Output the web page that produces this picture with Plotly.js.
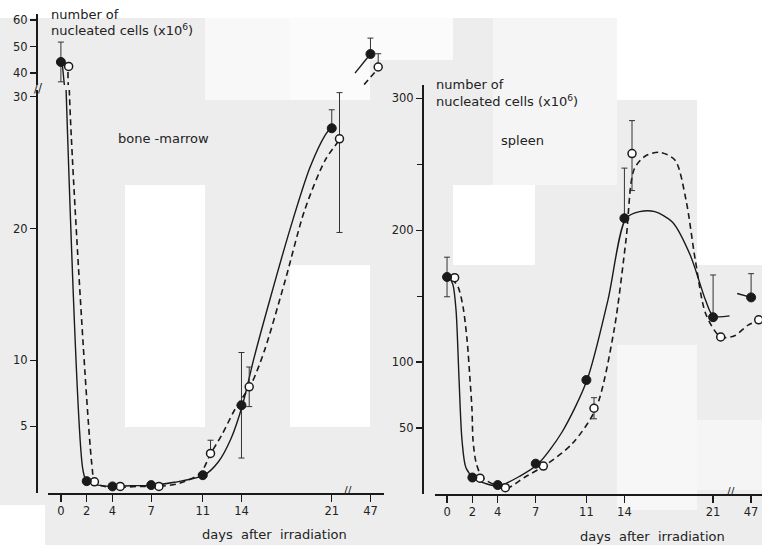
<!DOCTYPE html>
<html><head><meta charset="utf-8">
<script src="https://cdn.plot.ly/plotly-3.0.1.min.js"></script>
<style>html,body{margin:0;padding:0;background:#fff}#chart{width:762px;height:545px}</style>
</head><body><div id="chart"></div>
<script>
// ---- data ----
const days = [0, 2, 4, 7, 11, 14, 21, 47];
const dayTickLabels = ['0', '2', '4', '7', '11', '14', '21', '47'];

// bone-marrow (x10^6 cells)
const bmFilled = [44.2, 0.85, 0.45, 0.55, 1.3, 6.6, 27.6, 47.2];
const bmFilledErrPlus = [7.5, 0, 0, 0, 0, 4.0, 1.4, 6.0];
const bmFilledErrMinus = [7.5, 0, 0, 0, 0, 4.0, 0, 0];
const bmOpen = [42.5, 0.8, 0.45, 0.45, 2.95, 8.0, 26.8, 42.3];
const bmOpenErrPlus = [0, 0, 0, 0, 1.0, 1.5, 3.5, 5.0];
const bmOpenErrMinus = [0, 0, 0, 0, 0, 1.5, 7.1, 0];

// hand-drawn fitted curves, bone-marrow (axis position, value)
const bmSolidX = [0.1, 0.42, 1.7, 2.0, 3.0, 4.1, 5.4, 7.05, 8.8, 11.1, 12.2, 13.2, 14.1, 14.95, 16.2, 17.75, 19.3, 20.5, 20.9, null, 22.8, 24.0];
const bmSolidY = [44.2, 30, 1.74, 0.83, 0.53, 0.45, 0.5, 0.53, 0.76, 1.3, 2.3, 4.1, 6.7, 10.1, 14.6, 19.9, 24.6, 27.1, 27.6, null, 40.0, 47.2];
const bmDashX = [0.55, 0.67, 2.4, 2.64, 3.4, 4.5, 6.1, 7.6, 9.2, 10.8, 11.6, 12.5, 13.5, 14.8, 15.8, 17.4, 18.9, 20.5, 21.6, null, 23.0, 24.7];
const bmDashY = [40.4, 30, 2.1, 0.76, 0.45, 0.38, 0.45, 0.45, 0.68, 1.44, 2.9, 4.4, 6.3, 8.3, 10.8, 16.1, 21.4, 25.2, 26.7, null, 32.8, 42.3];

// spleen (x10^6 cells)
const spFilled = [164.5, 12.5, 6.8, 23, 86.4, 209, 134, 149];
const spFilledErrPlus = [15, 0, 0, 0, 0, 38, 32, 18];
const spFilledErrMinus = [15, 0, 0, 0, 0, 0, 0, 0];
const spOpen = [164, 12.0, 4.8, 21.2, 65, 258, 119, 132];
const spOpenErrPlus = [0, 0, 0, 0, 8, 25, 0, 0];
const spOpenErrMinus = [0, 0, 0, 0, 8, 28, 0, 0];

// hand-drawn fitted curves, spleen
const spSolidX = [0.16, 0.47, 0.71, 0.95, 1.18, 1.5, 2.13, 3.16, 4.1, 5.76, 7.18, 9.08, 11.05, 12.7, 14.13, 15.2, 16.4, 17.8, 19.2, 20.4, 21, 22.3, null, 22.9, 24.0];
const spSolidY = [164.5, 158.5, 139.5, 86.4, 40.9, 19.7, 12.1, 7.6, 6.1, 13.6, 22.7, 47, 86.4, 147, 209, 214, 214, 206, 181, 147, 135, 135, null, 152, 149];
const spDashX = [0.39, 0.87, 1.26, 1.58, 1.82, 1.97, 2.05, 2.29, 2.76, 3.79, 4.74, 6.16, 7.66, 9.87, 11.76, 13.18, 14.13, 14.76, 15.63, 16.8, 18, 18.86, 19.6, 20.44, 21.6, 22.7, 23.76, 24.7];
const spDashY = [163, 157, 142, 117, 86, 64, 41, 24, 12.9, 6.8, 4.5, 12.9, 21.2, 38, 65, 124, 193, 246, 256, 259, 253, 223, 177, 136, 119, 120, 128, 132];

// ---- helpers ----
const BREAK_POS = 24;              // day 47 is drawn just beyond the axis break
const OPEN_SHIFT = 0.6;            // open symbols drawn slightly to the right
const axisPos = d => (d > 21 ? BREAK_POS : d);
const tickPos = days.map(axisPos);
const ink = '#1a1a1a';
const FONT = 'DejaVu Sans, sans-serif';

function curve(x, y, xa, ya, dashed) {
  return {x, y, xaxis: xa, yaxis: ya, type: 'scatter', mode: 'lines', hoverinfo: 'skip',
    connectgaps: false,
    line: {color: ink, width: dashed ? 1.6 : 1.4, dash: dashed ? '6px,4px' : 'solid', shape: 'spline', smoothing: 0.8},
    showlegend: false};
}
function pts(vals, plus, minus, xa, ya, open) {
  return {x: days.map(d => axisPos(d) + (open ? OPEN_SHIFT : 0)), y: vals, xaxis: xa, yaxis: ya,
    type: 'scatter', mode: 'markers', showlegend: false,
    marker: open ? {symbol: 'circle', size: 8, color: '#ffffff', line: {color: ink, width: 1.5}}
                 : {symbol: 'circle', size: 9, color: ink, line: {color: ink, width: 1}},
    error_y: {type: 'data', symmetric: false, array: plus, arrayminus: minus, thickness: 1, width: 3, color: '#333'}};
}

const data = [];
// bone marrow: lower (y) and upper (y2) parts of broken axis
['y', 'y2'].forEach(ya => {
  data.push(curve(bmSolidX, bmSolidY, 'x', ya, false));
  data.push(curve(bmDashX, bmDashY, 'x', ya, true));
  data.push(pts(bmOpen, bmOpenErrPlus, bmOpenErrMinus, 'x', ya, true));
  data.push(pts(bmFilled, bmFilledErrPlus, bmFilledErrMinus, 'x', ya, false));
});
// spleen
data.push(curve(spSolidX, spSolidY, 'x2', 'y3', false));
data.push(curve(spDashX, spDashY, 'x2', 'y3', true));
data.push(pts(spOpen, spOpenErrPlus, spOpenErrMinus, 'x2', 'y3', true));
data.push(pts(spFilled, spFilledErrPlus, spFilledErrMinus, 'x2', 'y3', false));

const W = 762, H = 545;
const px = v => v / W, py = v => 1 - v / H;

const axBase = {showgrid: false, zeroline: false, showline: true, linecolor: ink, linewidth: 1.5,
  ticks: 'outside', ticklen: 6, tickwidth: 1.2, tickcolor: ink,
  tickfont: {family: FONT, size: 11.5, color: '#222'}, fixedrange: true};

const xTicks = {tickmode: 'array', tickvals: tickPos, ticktext: dayTickLabels, ticklen: 7};

// background tiles of the scan (light grey with white / lighter blocks)
const tiles = [
  [0, 0, 762, 18, '#ffffff'], [205, 18, 290, 100, '#f8f8f8'], [290, 18, 370, 100, '#fbfbfb'],
  [370, 18, 453, 60, '#fbfbfb'], [493, 18, 617, 185, '#f5f5f5'], [617, 18, 697, 100, '#ffffff'],
  [697, 18, 762, 265, '#ffffff'], [125, 185, 205, 427, '#ffffff'], [290, 265, 370, 427, '#ffffff'],
  [453, 185, 535, 265, '#ffffff'], [617, 345, 697, 510, '#f7f7f7'], [697, 420, 762, 490, '#f5f5f5'],
  [0, 505, 45, 545, '#ffffff']];
const shapes = tiles.map(t => ({type: 'rect', xref: 'paper', yref: 'paper', layer: 'below',
  x0: px(t[0]), x1: px(t[2]), y0: py(t[3]), y1: py(t[1]), fillcolor: t[4], line: {width: 0}}));

const txt = (t, x, y, xanchor, size) => ({text: t, x: px(x), y: py(y), xref: 'paper', yref: 'paper',
  showarrow: false, xanchor: xanchor || 'left', yanchor: 'middle', font: {family: FONT, size: size || 13, color: '#222'}});

const layout = {
  width: W, height: H, margin: {l: 0, r: 0, t: 0, b: 0},
  paper_bgcolor: '#ededed', plot_bgcolor: 'rgba(0,0,0,0)', showlegend: false,
  xaxis: Object.assign({}, axBase, xTicks, {domain: [px(48), px(384)], range: [-1.0, 25.05], anchor: 'y'}),
  yaxis: Object.assign({}, axBase, {domain: [py(493), py(90)], range: [-0.05, 30.5], anchor: 'free', position: px(36),
    tickmode: 'array', tickvals: [5, 10, 20, 30], ticktext: ['5', '10', '20', '30']}),
  yaxis2: Object.assign({}, axBase, {domain: [py(85), py(14)], range: [35.5, 62.3], anchor: 'free', position: px(36),
    tickmode: 'array', tickvals: [40, 50, 60], ticktext: ['40', '50', '60']}),
  xaxis2: Object.assign({}, axBase, xTicks, {domain: [px(435), 1], range: [-0.95, 24.86], anchor: 'y3'}),
  yaxis3: Object.assign({}, axBase, {domain: [py(494), py(85)], range: [0, 310], anchor: 'free', position: px(422),
    tickmode: 'array', tickvals: [50, 100, 200, 300], ticktext: ['50', '100', '200', '300'],
    minor: {tickmode: 'array', tickvals: [150, 250], ticks: 'outside', ticklen: 5, tickwidth: 1.2, tickcolor: ink, showgrid: false}}),
  shapes: shapes,
  annotations: [
    txt('number of', 49, 14), txt('nucleated cells (x10<sup>6</sup>)', 49, 30),
    txt('bone -marrow', 116, 138),
    txt('days  after  irradiation', 274, 534, 'center'),
    txt('//', 38, 88, 'center', 12),
    txt('//', 348, 490, 'center', 11),
    txt('number of', 434, 84), txt('nucleated cells (x10<sup>6</sup>)', 434, 101),
    txt('spleen', 499, 141),
    txt('days  after  irradiation', 652, 536, 'center'),
    txt('//', 731, 491, 'center', 11)
  ]
};

Plotly.newPlot('chart', data, layout, {staticPlot: true, displayModeBar: false});
</script></body></html>
